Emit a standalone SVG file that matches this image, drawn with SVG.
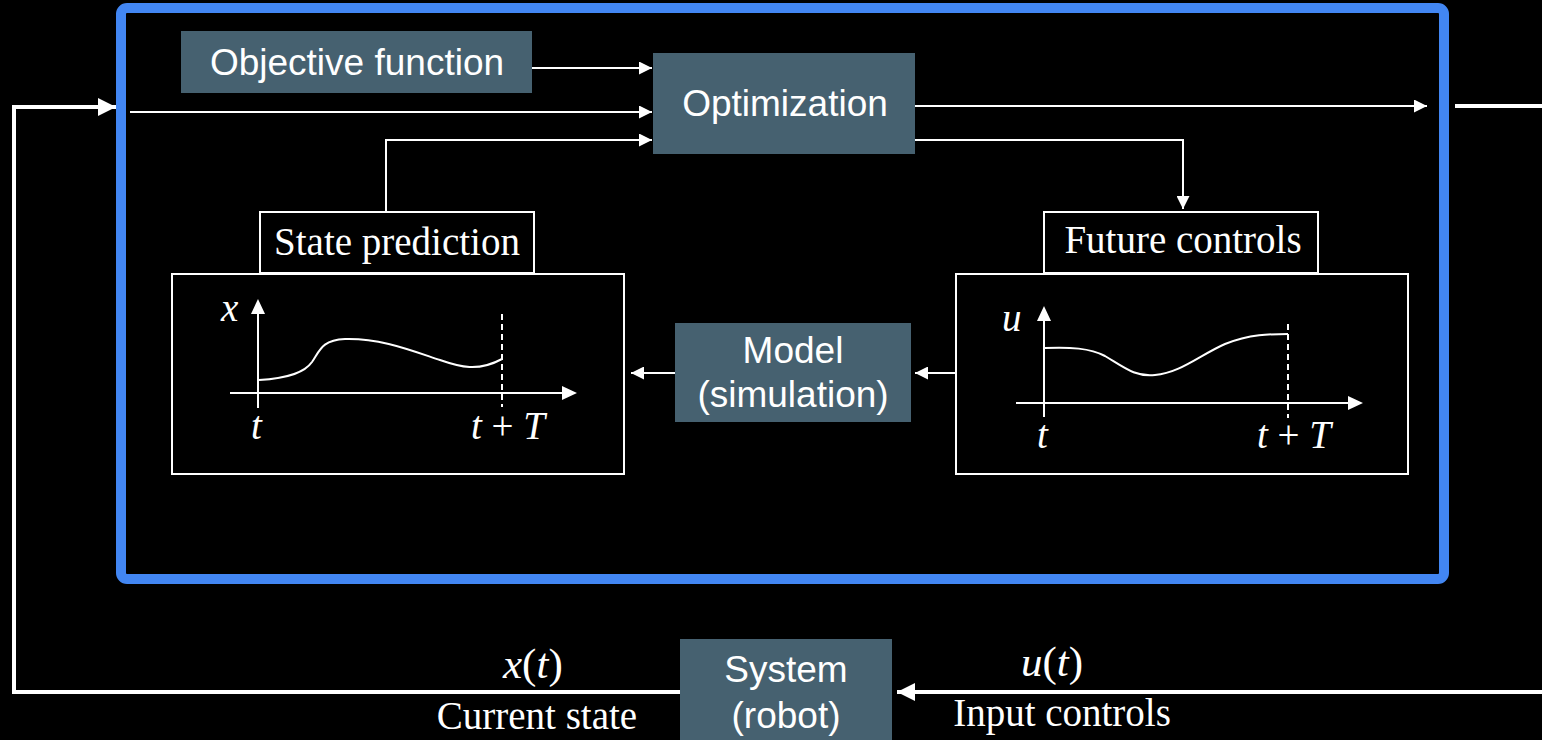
<svg xmlns="http://www.w3.org/2000/svg" width="1542" height="740" viewBox="0 0 1542 740">
<style>
.box{fill:#466170}
.sans{font-family:"Liberation Sans",Arial,Helvetica,sans-serif;font-size:37px;fill:#fff;text-anchor:middle}
.serif{font-family:"Liberation Serif","Times New Roman",serif;font-size:39px;fill:#fff;text-anchor:middle}
.math{font-family:"Liberation Serif","Times New Roman",serif;font-size:39px;fill:#fff;font-style:italic}
.big{font-size:43px}
.up{font-style:normal}
.wire{fill:none;stroke:#fff;stroke-width:2}
.thick{fill:none;stroke:#fff;stroke-width:4}
.frame{fill:none;stroke:#fff;stroke-width:2}
.dash{stroke:#fff;stroke-width:2;stroke-dasharray:6 4}
.tri{fill:#fff}
</style>
<defs>
<marker id="ah" viewBox="0 0 10 10" refX="10" refY="5" markerWidth="7.5" markerHeight="6.5" markerUnits="strokeWidth" orient="auto">
<path d="M0,0 L10,5 L0,10 z" fill="#fff"/>
</marker>
<marker id="ahb" viewBox="0 0 10 10" refX="10" refY="5" markerWidth="5" markerHeight="4.5" markerUnits="strokeWidth" orient="auto">
<path d="M0,0 L10,5 L0,10 z" fill="#fff"/>
</marker>
</defs>
<rect width="1542" height="740" fill="#000"/>

<g id="mpc-frame">
<rect x="121" y="8" width="1323" height="571" rx="6" fill="none" stroke="#4286f2" stroke-width="10"/>
</g>

<g id="connectors">
<line class="wire" x1="532" y1="68" x2="652" y2="68" marker-end="url(#ah)"/>
<line class="wire" x1="130" y1="112" x2="652" y2="112" marker-end="url(#ah)"/>
<polyline class="wire" points="386,211 386,140 652,140" marker-end="url(#ah)"/>
<line class="wire" x1="915" y1="106" x2="1427" y2="106" marker-end="url(#ah)"/>
<polyline class="wire" points="915,140 1183,140 1183,209" marker-end="url(#ah)"/>
<line class="wire" x1="956" y1="373" x2="915" y2="373" marker-end="url(#ah)"/>
<line class="wire" x1="675" y1="373" x2="631" y2="373" marker-end="url(#ah)"/>
<line class="thick" x1="1455" y1="106" x2="1542" y2="106"/>
<line class="thick" x1="1542" y1="692" x2="897" y2="692" marker-end="url(#ahb)"/>
<polyline class="thick" points="680,692 14,692 14,107 116,107" marker-end="url(#ahb)"/>
</g>

<g id="objective-function">
<rect class="box" x="181" y="31" width="351" height="62"/>
<text class="sans" x="357" y="75">Objective function</text>
</g>

<g id="optimization">
<rect class="box" x="653" y="53" width="262" height="101"/>
<text class="sans" x="785" y="116">Optimization</text>
</g>

<g id="model">
<rect class="box" x="675" y="323" width="236" height="99"/>
<text class="sans" x="793" y="363">Model</text>
<text class="sans" x="793" y="407">(simulation)</text>
</g>

<g id="system">
<rect class="box" x="680" y="639" width="212" height="101"/>
<text class="sans" x="786" y="682">System</text>
<text class="sans" x="786" y="728">(robot)</text>
</g>

<g id="state-prediction">
<rect class="frame" x="260" y="212" width="274" height="61"/>
<text class="serif" x="397" y="255">State prediction</text>
<rect class="frame" x="172" y="274" width="452" height="200"/>
<line class="wire" x1="258" y1="313" x2="258" y2="408"/>
<path class="tri" d="M258,299 L265,314 L251,314 z"/>
<line class="wire" x1="230" y1="393" x2="563" y2="393"/>
<path class="tri" d="M577,393 L562,386 L562,400 z"/>
<line class="dash" x1="502" y1="314" x2="502" y2="407"/>
<path class="wire" d="M259,380 C290,378 305,372 312,362 C320,350 322,340 345,339 C380,338 410,350 440,360 C460,367 478,372 502,359"/>
<text class="math" x="221" y="321">x</text>
<text class="math" x="251" y="439">t</text>
<text class="math" x="471" y="439">t <tspan class="up">+</tspan> T</text>
</g>

<g id="future-controls">
<rect class="frame" x="1044" y="212" width="274" height="61"/>
<text class="serif" x="1183" y="253">Future controls</text>
<rect class="frame" x="956" y="274" width="452" height="200"/>
<line class="wire" x1="1044" y1="320" x2="1044" y2="417"/>
<path class="tri" d="M1044,306 L1051,321 L1037,321 z"/>
<line class="wire" x1="1016" y1="403" x2="1349" y2="403"/>
<path class="tri" d="M1363,403 L1348,396 L1348,410 z"/>
<line class="dash" x1="1288" y1="324" x2="1288" y2="418"/>
<path class="wire" d="M1045,348 C1070,347 1090,348 1105,356 C1125,368 1135,377 1155,375 C1180,373 1200,355 1225,344 C1250,334 1270,334 1288,334"/>
<text class="math" x="1002" y="331">u</text>
<text class="math" x="1037" y="448">t</text>
<text class="math" x="1257" y="448">t <tspan class="up">+</tspan> T</text>
</g>

<g id="labels">
<text class="math big" x="503" y="678">x<tspan class="up">(</tspan>t<tspan class="up">)</tspan></text>
<text class="serif" x="537" y="729">Current state</text>
<text class="math big" x="1021" y="676">u<tspan class="up">(</tspan>t<tspan class="up">)</tspan></text>
<text class="serif" x="1062" y="726">Input controls</text>
</g>
</svg>
